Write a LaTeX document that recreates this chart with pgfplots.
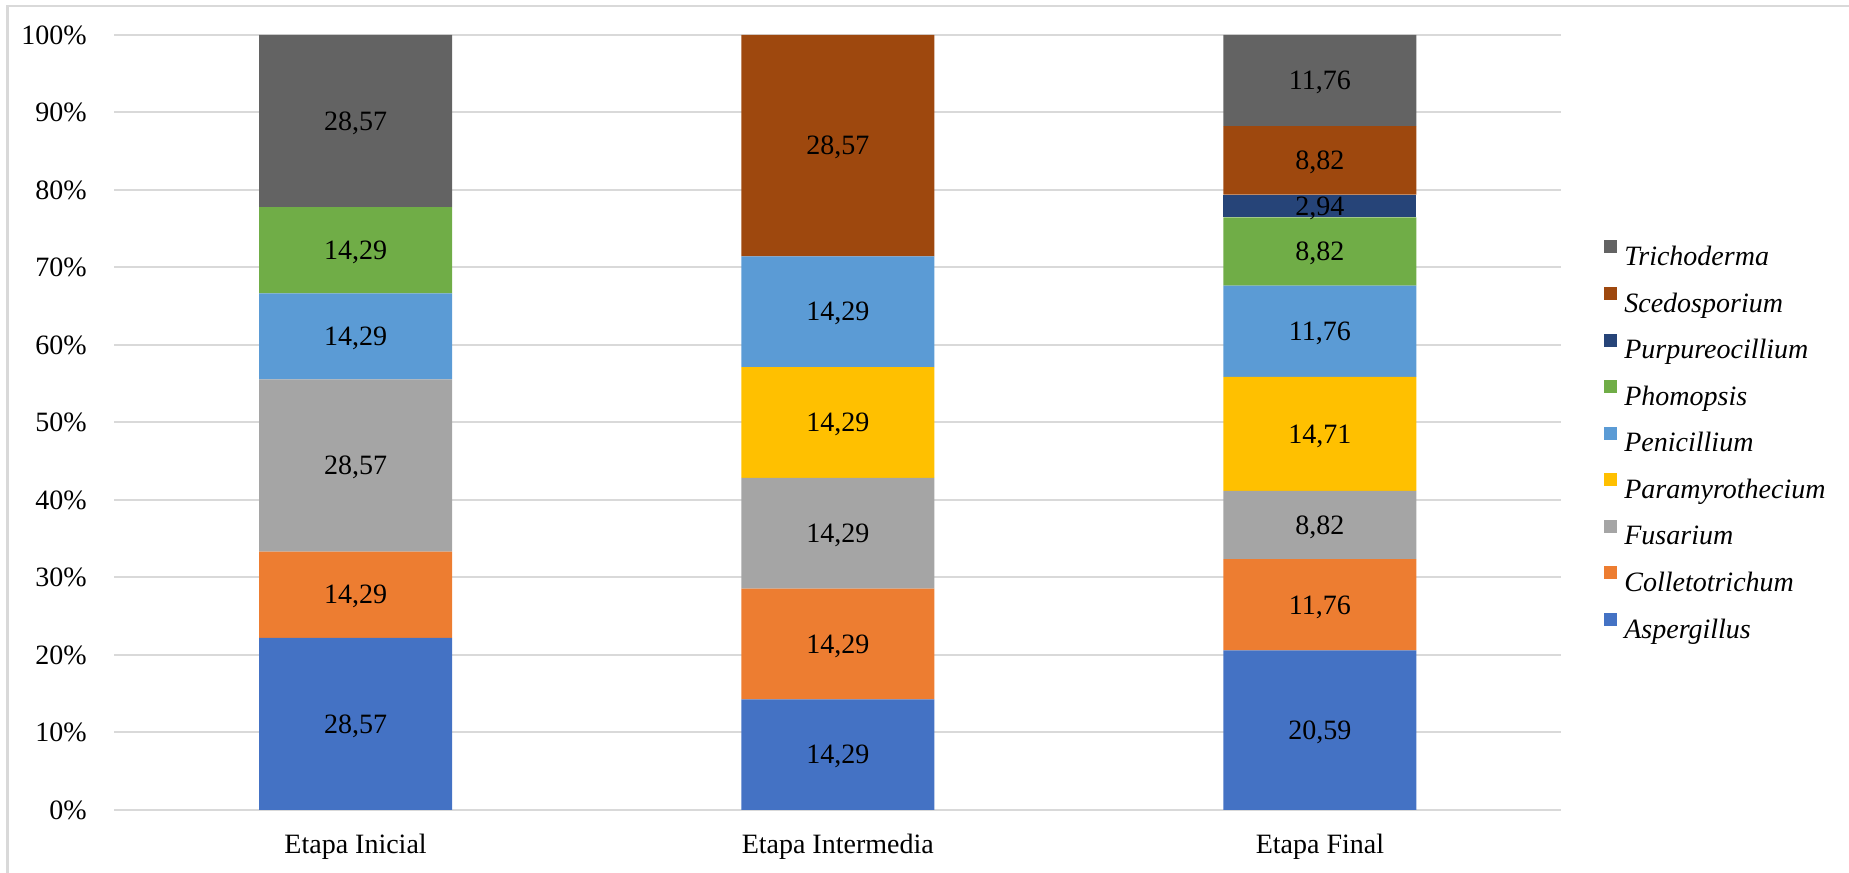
\documentclass[border=0pt]{standalone}
\usepackage{fontspec}
\setmainfont{Liberation Serif}
\usepackage{pgfplots}
\usepackage{pgfplotstable}
\pgfplotsset{compat=1.18}

\definecolor{cAsp}{HTML}{4472C4}
\definecolor{cCol}{HTML}{ED7D31}
\definecolor{cFus}{HTML}{A5A5A5}
\definecolor{cPar}{HTML}{FFC000}
\definecolor{cPen}{HTML}{5B9BD5}
\definecolor{cPho}{HTML}{70AD47}
\definecolor{cPur}{HTML}{264478}
\definecolor{cSce}{HTML}{9E480E}
\definecolor{cTri}{HTML}{636363}
\definecolor{rejilla}{HTML}{D9D9D9}

% Frecuencia (%) de cada genero por etapa
\pgfplotstableread{
etapa Asp   Col   Fus   Par   Pen   Pho   Pur  Sce   Tri
0     28.57 14.29 28.57 0     14.29 14.29 0    0     28.57
1     14.29 14.29 14.29 14.29 14.29 0     0    28.57 0
2     20.59 11.76 8.82  14.71 11.76 8.82  2.94 8.82  11.76
}\datos

% suma de la fila: cada barra se normaliza a 100 %
\newcommand\suma{(\thisrow{Asp}+\thisrow{Col}+\thisrow{Fus}+\thisrow{Par}+\thisrow{Pen}+\thisrow{Pho}+\thisrow{Pur}+\thisrow{Sce}+\thisrow{Tri})}
% sumas acumuladas bajo cada tramo
\newcommand\hastaCol{(\thisrow{Asp})}
\newcommand\hastaFus{(\thisrow{Asp}+\thisrow{Col})}
\newcommand\hastaPar{(\thisrow{Asp}+\thisrow{Col}+\thisrow{Fus})}
\newcommand\hastaPen{(\thisrow{Asp}+\thisrow{Col}+\thisrow{Fus}+\thisrow{Par})}
\newcommand\hastaPho{(\thisrow{Asp}+\thisrow{Col}+\thisrow{Fus}+\thisrow{Par}+\thisrow{Pen})}
\newcommand\hastaPur{(\thisrow{Asp}+\thisrow{Col}+\thisrow{Fus}+\thisrow{Par}+\thisrow{Pen}+\thisrow{Pho})}
\newcommand\hastaSce{(\thisrow{Asp}+\thisrow{Col}+\thisrow{Fus}+\thisrow{Par}+\thisrow{Pen}+\thisrow{Pho}+\thisrow{Pur})}
\newcommand\hastaTri{(\thisrow{Asp}+\thisrow{Col}+\thisrow{Fus}+\thisrow{Par}+\thisrow{Pen}+\thisrow{Pho}+\thisrow{Pur}+\thisrow{Sce})}

\pgfplotsset{
  marco/.style={
    at={(57.25pt,31.5pt)}, anchor=south west,
    scale only axis, width=723.25pt, height=387.5pt,
    xmin=-0.5, xmax=2.5, ymin=0, ymax=100,
    /pgf/number format/assume math mode=true,
  },
  % etiqueta centrada en su tramo, con el valor de la tabla
  rotulo/.style={
    draw=none, no markers, point meta=\thisrow{#1},
    nodes near coords={\pgfmathfloatifflags{\pgfplotspointmeta}{0}{}{\pgfmathprintnumber[fixed,fixed zerofill,precision=2,use comma,assume math mode=true]{\pgfplotspointmeta}}},
    every node near coord/.style={font=\fontsize{14}{16}\selectfont, text=black, inner sep=0pt, anchor=base, yshift=-4.6pt},
  },
}

\begin{document}
\begin{tikzpicture}[font=\fontsize{14}{16}\selectfont]
\path[use as bounding box] (0,0) rectangle (924.5pt,436.5pt);
\draw[rejilla, line width=1.25pt] (3.65pt,-2pt) -- (3.65pt,433.5pt) -- (930pt,433.5pt);
\begin{axis}[
  marco,
  ybar stacked, bar width=96.5pt,
  xtick={0,1,2},
  xticklabels={Etapa Inicial, Etapa Intermedia, Etapa Final},
  ytick={0,10,...,100},
  yticklabel={\pgfmathprintnumber{\tick}\%},
  major tick length=0pt,
  axis line style={draw=none},
  ymajorgrids, grid style={rejilla, line width=1pt},
  yticklabel style={font=\fontsize{14}{16}\selectfont, inner sep=0pt, anchor=east, xshift=-13.75pt},
  xticklabel style={font=\fontsize{14}{16}\selectfont, inner sep=0pt, anchor=base, yshift=-21.7pt},
  legend image code/.code={\fill[#1] (0pt,1.35pt) rectangle (6.5pt,7.85pt);},
  reverse legend,
  legend cell align=left,
  legend style={at={(1.0297,0.4755)}, anchor=west, draw=none, fill=none, inner sep=0pt,
    row sep=8.57pt, column sep=3.5pt, font=\itshape\fontsize{14}{16}\selectfont,
    nodes={inner sep=0pt, text height=11.5pt, text depth=2.23pt}},
]
\addplot[fill=cAsp, draw=none] table[x=etapa, y expr=\thisrow{Asp}/\suma*100]{\datos};
\addplot[fill=cCol, draw=none] table[x=etapa, y expr=\thisrow{Col}/\suma*100]{\datos};
\addplot[fill=cFus, draw=none] table[x=etapa, y expr=\thisrow{Fus}/\suma*100]{\datos};
\addplot[fill=cPar, draw=none] table[x=etapa, y expr=\thisrow{Par}/\suma*100]{\datos};
\addplot[fill=cPen, draw=none] table[x=etapa, y expr=\thisrow{Pen}/\suma*100]{\datos};
\addplot[fill=cPho, draw=none] table[x=etapa, y expr=\thisrow{Pho}/\suma*100]{\datos};
\addplot[fill=cPur, draw=none] table[x=etapa, y expr=\thisrow{Pur}/\suma*100]{\datos};
\addplot[fill=cSce, draw=none] table[x=etapa, y expr=\thisrow{Sce}/\suma*100]{\datos};
\addplot[fill=cTri, draw=none] table[x=etapa, y expr=\thisrow{Tri}/\suma*100]{\datos};
\legend{Aspergillus, Colletotrichum, Fusarium, Paramyrothecium, Penicillium, Phomopsis, Purpureocillium, Scedosporium, Trichoderma}
\end{axis}
% valores de cada tramo
\begin{axis}[marco, hide axis, clip=false]
\addplot[rotulo=Asp] table[x=etapa, y expr=(0.5*\thisrow{Asp})/\suma*100]{\datos};
\addplot[rotulo=Col] table[x=etapa, y expr=(\hastaCol+0.5*\thisrow{Col})/\suma*100]{\datos};
\addplot[rotulo=Fus] table[x=etapa, y expr=(\hastaFus+0.5*\thisrow{Fus})/\suma*100]{\datos};
\addplot[rotulo=Par] table[x=etapa, y expr=(\hastaPar+0.5*\thisrow{Par})/\suma*100]{\datos};
\addplot[rotulo=Pen] table[x=etapa, y expr=(\hastaPen+0.5*\thisrow{Pen})/\suma*100]{\datos};
\addplot[rotulo=Pho] table[x=etapa, y expr=(\hastaPho+0.5*\thisrow{Pho})/\suma*100]{\datos};
\addplot[rotulo=Pur] table[x=etapa, y expr=(\hastaPur+0.5*\thisrow{Pur})/\suma*100]{\datos};
\addplot[rotulo=Sce] table[x=etapa, y expr=(\hastaSce+0.5*\thisrow{Sce})/\suma*100]{\datos};
\addplot[rotulo=Tri] table[x=etapa, y expr=(\hastaTri+0.5*\thisrow{Tri})/\suma*100]{\datos};
\end{axis}
\end{tikzpicture}
\end{document}
